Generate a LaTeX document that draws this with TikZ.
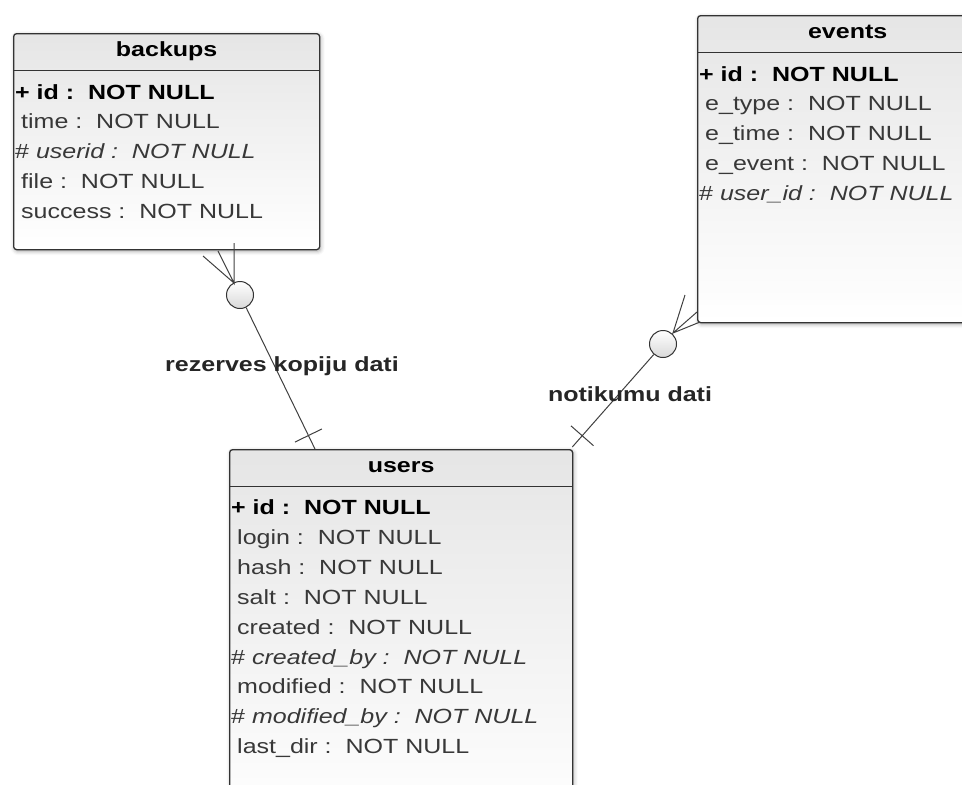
\documentclass[tikz,border=0pt]{standalone}
\usepackage{fontspec}
\setmainfont{Liberation Sans}[FakeStretch=1.22]
\usetikzlibrary{calc,shadows.blur}

% one line of a table
\newcommand{\pk}[1]{\textbf{\color{black}+ #1 :~~NOT NULL}}
\newcommand{\fk}[1]{\# \textit{#1 :~~NOT NULL}}
\newcommand{\fld}[1]{\hspace*{6pt}#1 :~~NOT NULL}

\tikzset{
        table/.style={ % Frame of each table
            rectangle, anchor=north west, inner sep=0pt,
            draw=black!80, line width=1.3pt,
            rounded corners=3pt,
            top color=gray!20, bottom color=white,
            blur shadow={shadow xshift=1pt, shadow yshift=-1.5pt, shadow blur radius=4pt, shadow opacity=35}},
        tabline/.style={draw=black!80, line width=1.2pt}, % Line under the table name
        tabhead/.style={ % Table name
            anchor=base, inner sep=0pt,
            font=\fontsize{20.5}{24}\selectfont\bfseries},
        row/.style={ % One column of a table
            anchor=base west, inner sep=0pt,
            text=black!78,
            font=\fontsize{20.5}{24}\selectfont},
        rel/.style={draw=black!75, line width=1pt}, % Relationship lines
        optc/.style={ % Optional (zero) mark
            circle, draw=black!80, line width=1pt,
            minimum size=27pt, inner sep=0pt,
            top color=white, bottom color=gray!30},
        rellabel/.style={ % Relationship name
            anchor=base, inner sep=0pt,
            text=black!85,
            font=\fontsize{20.5}{24}\selectfont\bfseries}
        }

\begin{document}
\begin{tikzpicture}[x=1pt,y=-1pt]
    \useasboundingbox (0,0) rectangle (962,785);

    % tables
    \node[table, minimum width=306pt, minimum height=216pt] (backups) at (13,33) {};
    \node[table, minimum width=300pt, minimum height=307pt] (events) at (697,15) {};
    \node[table, minimum width=343pt, minimum height=380pt] (users) at (229,449) {};

    \foreach \t in {backups,events,users} {
        \draw[tabline] ($(\t.north west)+(0,37.5)$) -- ($(\t.north east)+(0,37.5)$);
        \node[tabhead] (\t-h) at ($(\t.north)+(0,23)$) {\t};
    }

    \foreach \txt [count=\i from 0] in {\pk{id},\fld{time},\fk{userid},\fld{file},\fld{success}}
        \node[row] (backups-\i) at ($(backups.north west)+(2,66+29.8*\i)$) {\txt};
    \foreach \txt [count=\i from 0] in {\pk{id},\fld{e\_type},\fld{e\_time},\fld{e\_event},\fk{user\_id}}
        \node[row] (events-\i) at ($(events.north west)+(2,66+29.8*\i)$) {\txt};
    \foreach \txt [count=\i from 0] in {\pk{id},\fld{login},\fld{hash},\fld{salt},\fld{created},
            \fk{created\_by},\fld{modified},\fk{modified\_by},\fld{last\_dir}}
        \node[row] (users-\i) at ($(users.north west)+(2,65.5+29.9*\i)$) {\txt};

    % backups -- users
    \node[optc] (bo) at (240,295) {};
    \coordinate (bu) at ($(users.north west)+(86,0)$);
    \coordinate (bf) at (234,283);
    \coordinate (bf1) at (234,243);
    \coordinate (bf2) at (218,251);
    \coordinate (bf3) at (203,256);
    \draw[rel] (bo) -- (bu);
    \draw[rel] (bf1) -- (bf) -- (bf2) (bf) -- (bf3);
    \coordinate (bt) at ($(bu)!15pt!(bo)$);
    \draw[rel] ($(bt)!15pt!90:(bu)$) -- ($(bt)!15pt!-90:(bu)$);
    \node[rellabel] (bl) at (282,371) {rezerves kopiju dati};

    % events -- users
    \node[optc] (eo) at (663,344) {};
    \coordinate (eu) at ($(users.north east)+(-1,-2)$);
    \coordinate (ef) at (673,333);
    \coordinate (ef1) at (685,295);
    \coordinate (ef2) at (697,312);
    \coordinate (ef3) at (700,322);
    \draw[rel] (eo) -- (eu);
    \draw[rel] (ef1) -- (ef) -- (ef2) (ef) -- (ef3);
    \coordinate (et) at ($(eu)!15pt!(eo)$);
    \draw[rel] ($(et)!15pt!90:(eu)$) -- ($(et)!15pt!-90:(eu)$);
    \node[rellabel] (el) at (630,401) {notikumu dati};
\end{tikzpicture}
\end{document}
